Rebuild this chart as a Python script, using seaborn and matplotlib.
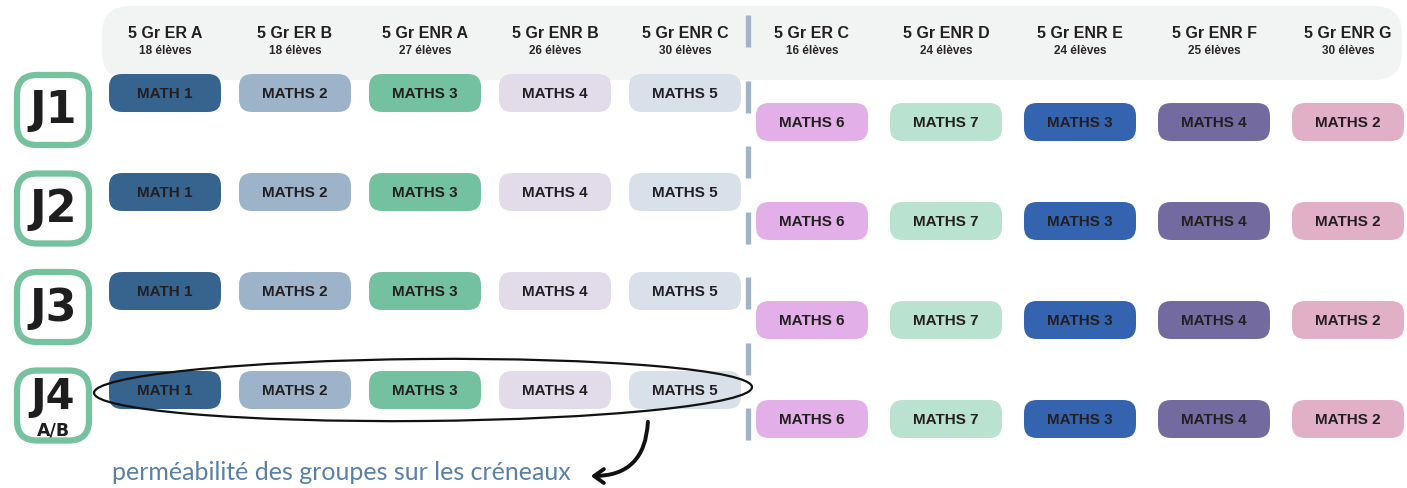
import numpy as np
import matplotlib
matplotlib.use("Agg")
import matplotlib.pyplot as plt
import seaborn as sns
from matplotlib.patches import FancyBboxPatch, Ellipse, FancyArrowPatch

# données du planning
groupes_gauche = ["5 Gr ER A", "5 Gr ER B", "5 Gr ENR A", "5 Gr ENR B", "5 Gr ENR C"]
eleves_gauche = [18, 18, 27, 26, 30]
groupes_droite = ["5 Gr ER C", "5 Gr ENR D", "5 Gr ENR E", "5 Gr ENR F", "5 Gr ENR G"]
eleves_droite = [16, 24, 24, 25, 30]

cours_gauche = ["MATH 1", "MATHS 2", "MATHS 3", "MATHS 4", "MATHS 5"]
cours_droite = ["MATHS 6", "MATHS 7", "MATHS 3", "MATHS 4", "MATHS 2"]
couleurs_gauche = ["#36648e", "#9db3c9", "#74c19f", "#e2dbea", "#d8e1e9"]
couleurs_droite = ["#e2afe8", "#b9e2d0", "#3464af", "#736a9f", "#e2b0c6"]

jours = ["J1", "J2", "J3", "J4"]
sous_titre_j4 = "A/B"
legende = "perméabilité des groupes sur les créneaux"

sns.set_theme(style="white")
plt.rcParams['font.family'] = ['Liberation Sans', 'DejaVu Sans']

W, H = 1407, 488
fig = plt.figure(figsize=(W / 100, H / 100), dpi=100)
ax = fig.add_axes([0, 0, 1, 1])
ax.set_xlim(0, W)
ax.set_ylim(H, 0)
ax.axis('off')

# bandeau d'en-tête
ax.add_patch(FancyBboxPatch((102, 6), 1300, 74,
                            boxstyle="round,pad=0,rounding_size=28",
                            facecolor="#f2f4f3", edgecolor="none", zorder=0))

x_gauche = [165 + 130 * i for i in range(len(groupes_gauche))]
x_droite = [812 + 134 * i for i in range(len(groupes_droite))]

for xs, groupes, eleves in [(x_gauche, groupes_gauche, eleves_gauche),
                            (x_droite, groupes_droite, eleves_droite)]:
    for x, g, n in zip(xs, groupes, eleves):
        ax.text(x, 33, g, ha='center', va='center', fontsize=11.5,
                fontweight='bold', color="#231f20")
        ax.text(x, 51, f"{n} élèves", ha='center', va='center', fontsize=8.5,
                fontweight='bold', color="#2a2627")

# séparateur vertical en tirets
for y0 in np.arange(15, 441, 65.5):
    ax.plot([748, 748], [y0, y0 + 32], color="#9fb4c8", lw=3.8,
            solid_capstyle='butt', zorder=1)


def pastille(x, y, texte, couleur):
    w, h = 104, 30
    ax.add_patch(FancyBboxPatch((x - w / 2, y - h / 2), w, h,
                                boxstyle="round,pad=4,rounding_size=13",
                                facecolor=couleur, edgecolor="none", zorder=2))
    ax.text(x, y + 1, texte, ha='center', va='center', fontsize=11,
            fontweight='bold', color="#231f20", zorder=3)


for j, jour in enumerate(jours):
    y_g = 93 + 99 * j
    y_d = y_g + 29
    for x, c, col in zip(x_gauche, cours_gauche, couleurs_gauche):
        pastille(x, y_g, c, col)
    for x, c, col in zip(x_droite, cours_droite, couleurs_droite):
        pastille(x, y_d, c, col)

    # étiquette du jour
    yc = 110 + 98.5 * j
    ax.add_patch(FancyBboxPatch((17, yc - 35), 72, 70,
                                boxstyle="round,pad=0,rounding_size=20",
                                facecolor="white", edgecolor="#76c29f",
                                lw=4.5, zorder=2))
    if jour == "J4":
        ax.text(53, yc - 8, jour, ha='center', va='center', fontsize=30,
                fontweight='heavy', family='DejaVu Sans', color="#1e1e1e", zorder=3)
        ax.text(53, yc + 25, sous_titre_j4, ha='center', va='center', fontsize=12.5,
                fontweight='heavy', family='DejaVu Sans', color="#1e1e1e", zorder=3)
    else:
        ax.text(53, yc + 1, jour, ha='center', va='center', fontsize=32,
                fontweight='heavy', family='DejaVu Sans', color="#1e1e1e", zorder=3)

# ellipse dessinée à main levée autour de J4
ax.add_patch(Ellipse((423, 390), 658, 62, angle=-0.5, facecolor="none",
                     edgecolor="#111111", lw=1.6, zorder=4))

ax.add_patch(FancyArrowPatch((648, 419), (588, 476),
                             connectionstyle="arc3,rad=-0.5",
                             arrowstyle="->,head_length=7,head_width=5",
                             color="#111111", lw=2.8, zorder=4))

ax.text(112, 472, legende, ha='left', va='center', fontsize=18,
        family=['Lato', 'DejaVu Sans'], color="#5a80a8")

fig.savefig("out.png", dpi=100)
